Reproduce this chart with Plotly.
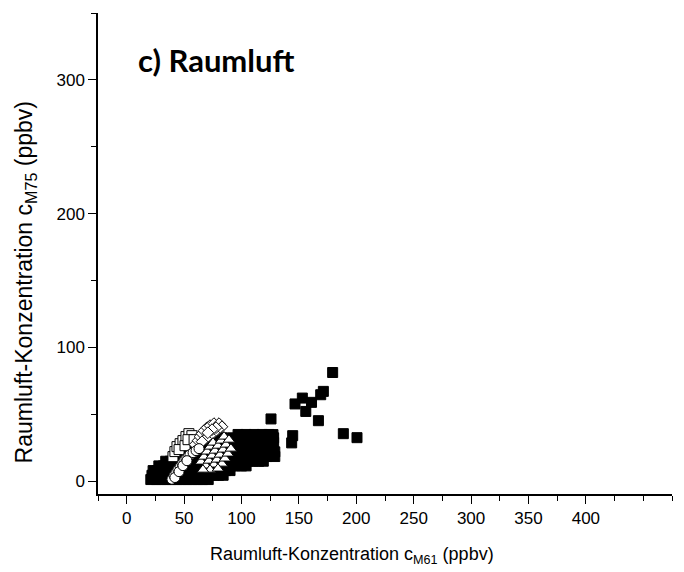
import plotly.graph_objects as go

# ---- data (ppbv) ----
# filled squares: dense cluster rows + scattered high values
sq_fill_x = [
    21, 26, 30, 35, 39, 44, 48, 53, 57, 62, 66, 71,
    22, 26, 31, 35, 40, 44, 49, 53, 58, 62, 67, 71, 76, 80, 84,
    23, 27, 32, 36, 41, 45, 50, 54, 59, 63, 68, 72, 77, 81, 86, 90,
    28, 32, 37, 41, 46, 50, 55, 59, 64, 68, 73, 77, 82, 86, 91, 95, 100, 104,
    34, 38, 43, 47, 52, 56, 61, 65, 70, 74, 79, 83, 88, 92, 97, 101, 106, 110, 115, 119,
    41, 45, 50, 54, 59, 63, 68, 72, 77, 81, 86, 90, 95, 99, 104, 108, 113, 117, 122, 129,
    47, 51, 56, 60, 65, 69, 74, 78, 83, 87, 92, 96, 101, 105, 110, 114, 119, 124, 129,
    53, 57, 62, 66, 71, 75, 80, 84, 89, 93, 98, 102, 107, 112, 117, 121, 126,
    61, 66, 72, 77, 83, 88, 94, 99, 105, 110, 115, 120, 128,
    74, 83, 92, 99, 105, 111, 116, 122, 128,
    97, 104, 111, 118, 124,
    179.4, 171.3, 169.0, 153.0, 146.6, 161.0, 156.0, 167.0, 188.7, 200.6,
    144.6, 143.7, 125.7, 127.4,
]
sq_fill_y = [
    1.3, 1.3, 1.3, 1.3, 1.3, 1.3, 1.3, 1.3, 1.3, 1.3, 1.3, 1.3,
    4.5, 4.5, 4.5, 4.5, 4.5, 4.5, 4.5, 4.5, 4.5, 4.5, 4.5, 4.5, 4.5, 4.5, 4.5,
    8.0, 8.0, 8.0, 8.0, 8.0, 8.0, 8.0, 8.0, 8.0, 8.0, 8.0, 8.0, 8.0, 8.0, 8.0, 8.0,
    11.5, 11.5, 11.5, 11.5, 11.5, 11.5, 11.5, 11.5, 11.5, 11.5, 11.5, 11.5, 11.5, 11.5, 11.5, 11.5, 11.5, 11.5,
    15.0, 15.0, 15.0, 15.0, 15.0, 15.0, 15.0, 15.0, 15.0, 15.0, 15.0, 15.0, 15.0, 15.0, 15.0, 15.0, 15.0, 15.0, 15.0, 15.0,
    18.5, 18.5, 18.5, 18.5, 18.5, 18.5, 18.5, 18.5, 18.5, 18.5, 18.5, 18.5, 18.5, 18.5, 18.5, 18.5, 18.5, 18.5, 18.5, 18.5,
    22.0, 22.0, 22.0, 22.0, 22.0, 22.0, 22.0, 22.0, 22.0, 22.0, 22.0, 22.0, 22.0, 22.0, 22.0, 22.0, 22.0, 22.0, 22.0,
    25.5, 25.5, 25.5, 25.5, 25.5, 25.5, 25.5, 25.5, 25.5, 25.5, 25.5, 25.5, 25.5, 25.5, 25.5, 25.5, 25.5,
    29.0, 29.0, 29.0, 29.0, 29.0, 29.0, 29.0, 29.0, 29.0, 29.0, 29.0, 29.0, 29.0,
    32.5, 32.5, 32.5, 32.5, 32.5, 32.5, 32.5, 32.5, 32.5,
    35.0, 35.0, 35.0, 35.0, 35.0,
    81.3, 67.2, 64.7, 62.2, 57.8, 59.0, 52.2, 45.3, 35.6, 32.6,
    34.1, 28.7, 46.6, 34.9,
]

# open squares
sq_open_x = [40.3, 42.0, 43.8, 46.5, 49.0, 51.6, 54.2, 56.8, 45.6, 50.8, 53.4, 58.7]
sq_open_y = [18.4, 22.2, 25.9, 28.1, 30.4, 33.4, 35.6, 34.1, 23.7, 26.6, 31.1, 31.1]

# open diamonds
dia_x = [59.5, 62.1, 63.8, 65.6, 67.3, 70.0, 72.6, 76.0, 80.4, 83.0, 79.5, 76.0,
         72.6, 69.0, 65.6, 77.8, 74.3, 70.7]
dia_y = [27.4, 30.4, 33.4, 35.6, 37.8, 40.1, 41.6, 43.1, 43.1, 40.8, 38.6, 36.3,
         34.1, 31.9, 29.6, 40.1, 38.6, 36.3]

# open triangles
tri_x = [64.7, 67.3, 70.0, 72.6, 75.2,
         69.0, 71.7, 74.3, 76.9, 79.5, 82.2, 84.8,
         76.0, 78.6, 81.2, 83.9, 86.5, 89.1,
         83.0, 85.6, 88.2, 90.8,
         72.6, 79.5, 66.4]
tri_y = [14.7, 18.4, 22.2, 25.9, 28.9,
         11.7, 15.4, 19.2, 22.9, 26.6, 30.4, 33.4,
         12.5, 16.2, 19.9, 23.7, 27.4, 31.1,
         13.2, 17.0, 20.7, 24.4,
         8.7, 9.5, 8.7]

# open circles
circ_x = [39.4, 41.2, 42.9, 44.6, 46.5, 48.2, 49.9, 51.6, 53.4, 55.1, 57.8, 60.4,
          63.0, 42.0, 45.6, 49.0, 52.5]
circ_y = [1.5, 4.3, 6.5, 8.7, 11.0, 13.2, 15.4, 17.0, 18.4, 19.9, 21.4, 22.9,
          24.4, 2.8, 7.2, 11.7, 15.4]

x_ticks = [0, 50, 100, 150, 200, 250, 300, 350, 400]
y_ticks = [0, 100, 200, 300]

title_text = "<b>c) Raumluft</b>"
x_title = "Raumluft-Konzentration c<sub>M61</sub> (ppbv)"
y_title = "Raumluft-Konzentration c<sub>M75</sub> (ppbv)"

FONT = "Liberation Sans, Arial, sans-serif"

fig = go.Figure()


def add_series(x, y, symbol, fill, size):
    fig.add_trace(go.Scatter(
        x=x, y=y, mode="markers", showlegend=False, hoverinfo="skip",
        marker=dict(symbol=symbol, size=size, color=fill,
                    line=dict(color="black", width=1)),
    ))


add_series(sq_fill_x, sq_fill_y, "square", "black", 10)
add_series(sq_open_x, sq_open_y, "square", "white", 10)
add_series(dia_x, dia_y, "diamond", "white", 9)
add_series(tri_x, tri_y, "triangle-up", "white", 10)
add_series(circ_x, circ_y, "circle", "white", 10)

axis_common = dict(
    showgrid=False, zeroline=False, showline=True, linecolor="black", linewidth=1.5,
    ticks="outside", ticklen=8, tickwidth=1.3, tickcolor="black",
    tickfont=dict(family=FONT, size=17, color="black"),
)

fig.update_xaxes(
    range=[-25, 475], tickmode="array", tickvals=x_ticks,
    ticktext=[str(v) for v in x_ticks],
    minor=dict(ticks="outside", dtick=25, tick0=0, ticklen=5, tickwidth=1.3,
               tickcolor="black", showgrid=False),
    **axis_common,
)
fig.update_yaxes(
    range=[-9.5, 350], tickmode="array", tickvals=y_ticks,
    ticktext=[str(v) for v in y_ticks],
    minor=dict(ticks="outside", dtick=50, tick0=0, ticklen=5, tickwidth=1.3,
               tickcolor="black", showgrid=False),
    **axis_common,
)

fig.add_annotation(
    text=title_text, xref="paper", yref="paper", x=0.066, y=0.902,
    xanchor="left", yanchor="middle", showarrow=False,
    font=dict(family="Lato, sans-serif", size=31, color="black"),
)
fig.add_annotation(
    text=x_title, xref="paper", yref="paper", x=0.4425, y=-0.127,
    xanchor="center", yanchor="middle", showarrow=False,
    font=dict(family=FONT, size=18, color="black"),
)
fig.add_annotation(
    text=y_title, xref="paper", yref="paper", x=-0.127, y=0.44,
    xanchor="center", yanchor="middle", showarrow=False, textangle=-90,
    font=dict(family=FONT, size=23, color="black"),
)

fig.update_layout(
    width=684, height=572, autosize=False,
    margin=dict(l=98, r=12, t=13, b=78),
    paper_bgcolor="white", plot_bgcolor="white",
)

fig.write_html("out.html")
